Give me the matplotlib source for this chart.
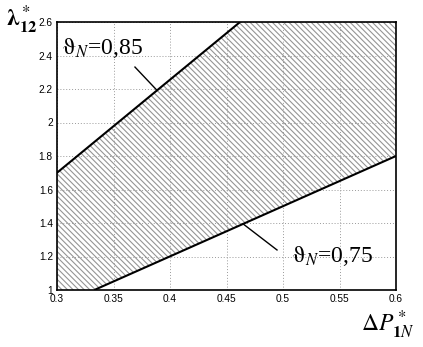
import numpy as np
import matplotlib
matplotlib.use("Agg")
import matplotlib.pyplot as plt

plt.rcParams['mathtext.fontset'] = 'stix'

# Boundary lines
upper_x = [0.3, 0.462]
upper_y = [1.7, 2.6]
lower_x = [0.333, 0.6]
lower_y = [1.0, 1.8]

xticks = [0.3, 0.35, 0.4, 0.45, 0.5, 0.55, 0.6]
xticklabels = ['0.3', '0.35', '0.4', '0.45', '0.5', '0.55', '0.6']
yticks = [1, 1.2, 1.4, 1.6, 1.8, 2, 2.2, 2.4, 2.6]
yticklabels = ['1', '1.2', '1.4', '1.6', '1.8', '2', '2.2', '2.4', '2.6']

label_upper = r'$\mathrm{\vartheta}_N$=0,85'
label_lower = r'$\mathrm{\vartheta}_N$=0,75'

fig = plt.figure(figsize=(4.23, 3.47), dpi=100)
ax = fig.add_axes([57/423, 1-290/347, (396-57)/423, (290-22)/347])

xs = np.linspace(0.3, 0.6, 400)
y_lo = np.interp(xs, lower_x, lower_y, left=1.0)
y_hi = np.interp(xs, upper_x, upper_y, right=2.6)
plt.rcParams['hatch.linewidth'] = 0.8
plt.rcParams['hatch.color'] = '#959595'
ax.fill_between(xs, y_lo, y_hi, facecolor='none', edgecolor='#959595',
                hatch='\\' * 6, linewidth=0)

ax.plot(upper_x, upper_y, color='black', lw=1.5, solid_capstyle='butt')
ax.plot(lower_x, lower_y, color='black', lw=1.5, solid_capstyle='butt')

ax.set_xlim(0.3, 0.6)
ax.set_ylim(1, 2.6)
ax.set_xticks(xticks)
ax.set_xticklabels(xticklabels)
ax.set_yticks(yticks)
ax.set_yticklabels(yticklabels)
for lab in ax.get_xticklabels() + ax.get_yticklabels():
    lab.set_fontfamily('Liberation Sans')
    lab.set_fontsize(7.3)
ax.tick_params(axis='x', direction='in', length=0, pad=3)
ax.tick_params(axis='y', direction='in', length=0, pad=3)
ax.grid(True, color='#9a9a9a', linestyle=(0, (1, 2)), linewidth=0.7)
for s in ax.spines.values():
    s.set_linewidth(1.2)

# annotations
ax.plot([0.369, 0.3885], [2.331, 2.192], color='black', lw=1.0)
ax.text(0.3044, 2.409, label_upper, fontsize=17, family='Liberation Serif',
        va='baseline', ha='left')
ax.plot([0.4646, 0.4947], [1.395, 1.239], color='black', lw=1.0)
ax.text(0.508, 1.167, label_lower, fontsize=17, family='Liberation Serif',
        va='baseline', ha='left')

fig.text(6/423, 1-27/347, r'$\mathbf{\lambda}^*_{\mathbf{12}}$', fontsize=17,
         va='baseline', ha='left')
fig.text(361/423, 1-332/347, r'$\Delta P^*_{\mathbf{1}N}$', fontsize=17,
         va='baseline', ha='left')

fig.savefig('out.png', dpi=100)
